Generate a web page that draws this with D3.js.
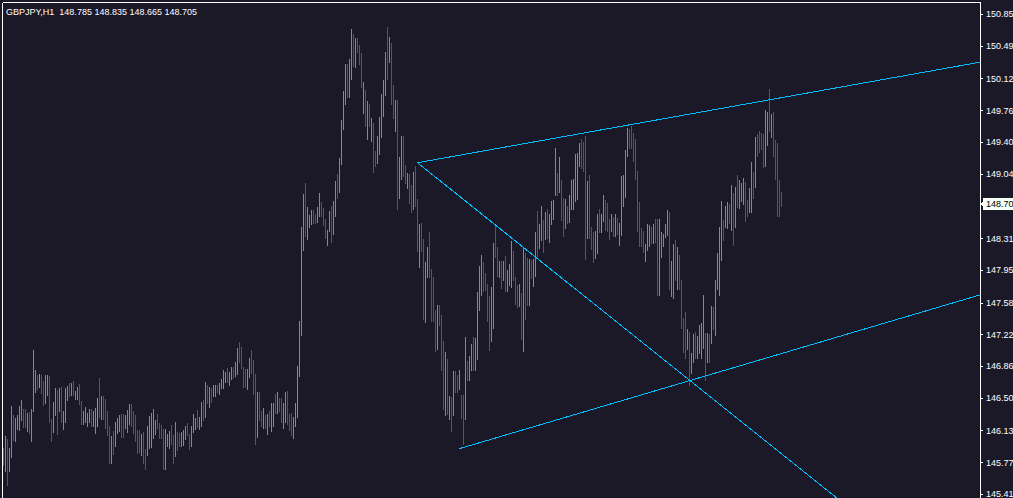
<!DOCTYPE html>
<html><head><meta charset="utf-8">
<script src="https://cdn.jsdelivr.net/npm/d3@7"></script>
<style>html,body{margin:0;padding:0;background:#1b1828;overflow:hidden}</style>
</head><body>
<svg id="c" width="1013" height="498"></svg>
<script>
// ---------------- data ----------------
const symbol = "GBPJPY";
const timeframe = "H1";
const lastOHLC = [148.785, 148.835, 148.665, 148.705];
const currentPrice = 148.705;

const barHigh = [
145.94,146.07,146.04,145.94,146.41,146.31,146.28,146.31,146.41,146.48,
146.38,146.38,146.33,146.35,146.38,147.05,146.82,146.76,146.78,146.76,
146.70,146.76,146.76,146.75,146.27,146.46,146.62,146.60,146.62,146.63,
146.36,146.62,146.64,146.67,146.67,146.70,146.58,146.63,146.66,146.47,
146.36,146.40,146.33,146.38,146.38,146.36,146.39,146.50,146.73,146.53,
146.53,146.49,146.36,146.19,146.07,146.13,146.23,146.28,146.31,146.32,
146.32,146.31,146.37,146.43,146.44,146.36,146.31,146.14,146.14,146.10,
146.12,145.93,146.19,146.30,146.33,146.38,146.25,146.32,146.22,146.20,
146.15,146.15,146.10,146.13,146.20,146.08,146.23,146.12,146.11,146.12,
146.14,146.19,146.22,146.10,146.19,146.32,146.28,146.37,146.29,
146.46,146.48,146.69,146.65,146.63,146.62,146.65,146.65,146.65,146.67,
146.72,146.82,146.80,146.84,146.80,146.85,146.85,146.91,147.07,147.14,
147.08,146.85,146.83,146.83,146.96,147.05,146.93,146.78,146.57,146.57,
146.36,146.39,146.31,146.32,146.36,146.45,146.45,146.55,146.57,146.50,
146.50,146.45,146.57,146.58,146.32,146.33,146.29,146.45,146.87,147.38,
148.44,148.82,148.94,148.67,148.58,148.63,148.63,148.59,148.67,148.83,
148.72,148.66,148.53,148.41,148.62,148.68,148.74,148.96,149.04,149.22,
149.65,149.98,150.29,150.29,150.35,150.69,150.63,150.58,150.58,150.50,
150.41,150.08,149.99,149.87,149.84,149.68,149.62,149.30,149.47,149.69,
149.95,150.11,150.42,150.71,150.59,150.53,150.05,149.88,149.88,149.23,
149.47,149.47,149.14,149.05,149.04,148.92,149.07,149.13,148.76,148.48,
148.49,148.31,148.04,148.21,148.38,
147.97,147.88,147.50,147.56,147.56,147.44,147.15,147.02,146.95,146.53,
146.51,146.81,146.81,146.76,146.82,146.54,146.54,147.20,146.92,146.98,
147.12,147.20,147.18,147.70,148.00,148.13,148.04,147.92,147.80,147.66,
147.76,148.26,148.46,148.21,148.06,148.06,148.06,148.11,147.95,148.02,
148.28,148.17,147.88,147.79,147.80,147.69,148.21,148.15,148.09,148.08,
148.07,148.08,148.38,148.62,148.48,148.68,148.52,148.61,148.65,148.59,
148.74,148.75,149.34,149.05,149.23,148.97,148.77,148.76,148.68,148.80,
148.97,148.99,149.27,149.28,149.39,149.44,149.41,149.47,148.96,149.03,
148.44,148.39,148.40,148.59,148.65,148.59,148.80,148.75,148.71,148.53,
148.59,148.56,148.59,148.54,148.49,149.02,149.03,149.31,149.56,149.55,
149.59,149.51,149.44,149.08,148.72,148.43,148.40,148.25,148.48,148.46,
148.44,148.48,148.53,148.53,148.53,148.38,148.36,148.48,148.63,148.61,
148.06,148.25,148.29,148.22,148.13,147.84,147.41,147.48,147.29,147.25,
147.01,147.23,147.25,147.21,147.33,147.35,147.67,147.24,147.24,147.23,
147.55,147.54,147.84,148.15,148.44,148.74,148.52,148.68,148.72,148.70,
148.92,148.83,148.90,149.03,148.97,148.94,149.00,148.95,148.75,148.88,
149.18,149.07,149.46,149.49,149.53,149.51,149.50,149.77,149.74,150.01,
149.72,149.75,149.43,149.39,148.97,148.835
];

const barLow = [
145.73,145.66,145.51,145.67,145.82,146.02,146.01,146.14,146.13,146.24,
146.16,146.16,146.12,146.10,146.01,146.35,146.56,146.60,146.62,146.55,
146.41,146.43,146.53,146.22,146.01,146.11,146.30,146.08,146.34,146.22,
146.14,146.22,146.47,146.51,146.53,146.53,146.48,146.48,146.42,146.20,
146.20,146.22,146.18,146.22,146.18,146.18,146.09,146.18,146.28,146.25,
146.25,146.15,146.07,145.76,145.76,145.86,145.95,146.09,146.12,146.05,
146.05,146.15,146.11,146.20,146.18,146.10,146.00,145.87,145.88,145.85,
145.75,145.69,145.85,145.93,145.94,146.04,146.08,146.15,146.04,146.04,
145.69,145.69,145.95,145.93,145.97,145.76,145.83,145.90,145.95,145.95,
145.96,146.03,146.07,145.92,145.95,146.11,146.14,146.16,146.14,
146.18,146.24,146.28,146.43,146.39,146.45,146.52,146.52,146.56,146.54,
146.61,146.61,146.67,146.67,146.64,146.71,146.72,146.74,146.76,146.90,
146.83,146.62,146.62,146.59,146.73,146.78,146.54,145.97,146.05,146.24,
146.18,146.15,146.15,146.08,146.18,146.12,146.18,146.32,146.32,146.35,
146.22,146.15,146.22,146.20,146.13,146.07,146.04,146.18,146.28,146.74,
147.21,148.17,148.33,148.29,148.43,148.46,148.47,148.47,148.49,148.56,
148.55,148.45,148.30,148.23,148.39,148.26,148.35,148.55,148.76,148.83,
149.14,149.54,149.82,149.90,149.90,150.11,150.25,150.24,150.41,150.28,
150.02,149.72,149.57,149.43,149.57,149.41,149.05,149.12,149.15,149.26,
149.45,149.69,149.93,150.11,150.30,149.82,149.66,149.52,148.63,148.76,
148.97,149.01,148.93,148.87,148.70,148.60,148.63,148.67,148.16,147.98,
148.16,147.39,147.35,147.86,147.86,
147.36,147.36,147.02,147.05,147.32,146.81,146.37,146.30,146.31,146.25,
146.12,146.30,146.56,146.56,146.60,146.27,145.97,146.26,146.70,146.70,
146.81,146.81,146.81,146.93,147.49,147.66,147.70,147.72,147.36,147.04,
147.14,147.29,148.09,147.88,147.86,147.74,147.83,147.70,147.71,147.77,
147.75,147.83,147.56,147.52,147.53,147.16,147.03,147.39,147.55,147.55,
147.85,147.76,147.88,148.10,148.19,148.28,148.15,148.29,148.30,148.26,
148.46,148.52,148.79,148.79,148.83,148.51,148.33,148.42,148.48,148.49,
148.64,148.64,148.72,148.75,149.12,149.10,149.07,148.07,148.31,148.30,
148.18,148.03,148.08,148.14,148.37,148.37,148.50,148.40,148.38,148.29,
148.38,148.33,148.33,148.35,148.23,148.34,148.67,148.77,149.23,149.33,
149.33,149.18,148.98,148.38,148.21,148.21,148.15,148.05,148.17,148.22,
148.25,148.25,148.26,147.66,147.66,148.09,148.22,148.32,148.34,147.73,
147.65,147.62,147.83,147.73,147.73,147.29,147.01,146.95,147.05,146.64,
146.78,146.90,146.95,146.94,147.00,146.95,147.06,146.70,146.90,146.90,
147.12,147.27,147.21,147.73,147.66,148.06,148.28,148.43,148.42,148.48,
148.40,148.23,148.43,148.66,148.65,148.73,148.69,148.50,148.56,148.60,
148.60,148.76,148.88,149.23,149.28,149.31,149.11,149.12,149.36,149.52,
149.45,149.23,148.98,148.55,148.55,148.665
];

// g = up bar, m = down bar, n = unchanged bar
const barDir = (
"mgmggmgggg"+"mmgmgggmnm"+"mggmmggmgm"+"gggmgmggmm"+"ggggmggnmg"+
"mmmmgmgggm"+"mgggmmmmmg"+"mmgggggmmm"+"mgggmmgmmg"+"ggmmgggmg"+
"gmgmgmggmg"+"gggmggmggm"+"mmmggmmmgm"+"mgmgmggmgm"+"mggmmmgggg"+
"ggmgggmmgg"+"mmmggmggmg"+"gggmggmgmm"+"mgmgmgmmgg"+"gggmgmmgmg"+"gmmgmmgmmg"+"mmggm"+
"mmmgmmmgmg"+"mgmmgmmgmg"+"gmggggmmmm"+"ggmmgmgmgg"+"gmmmgmgmmg"+"mggmggmgmg"+
"gggmgmmgmg"+"gggggmmmgm"+"mmggmngmmm"+"gmgmgggggm"+"mmmmmmmggg"+"mgmmgggggm"+
"ggmgmmmmgm"+"ggmggggmgm"+"gmggggmggm"+"gmgmgggmmg"+"gmgmmmmggm"+"gmmmmm"
).split("");

const axisTicks = [150.85,150.49,150.12,149.76,149.40,149.04,148.31,147.95,147.58,147.22,146.86,146.50,146.13,145.77,145.41];

// trend lines: [startBar, startPrice, throughBar, throughPrice] (rays to the right)
const trendStartBar   = [207, 207, 228];
const trendStartPrice = [149.17, 149.17, 145.93];
const trendThruBar    = [488.3, 343.3, 398.3];
const trendThruPrice  = [150.31, 146.70, 147.07];

// ---------------- drawing ----------------
const W = 1013, H = 498;
const BG = "#1b1828", FG = "#ffffff";
const colors = {g: "#3cb371", m: "#c71585", n: "#00ff00"};
const plot = {left: 2, top: 2, right: 980, bottom: 498};

const svg = d3.select("#c");
svg.append("rect").attr("width", W).attr("height", H).attr("fill", BG);

const N = Math.min(barHigh.length, barLow.length, barDir.length);
const x = d3.scaleLinear().domain([0, 389]).range([3.5, 781.5]);
const y = d3.scaleLinear().domain([145.41, 150.85]).range([494.5, 14.5]);

svg.append("defs").append("clipPath").attr("id", "clip")
  .append("rect").attr("x", plot.left + 1).attr("y", plot.top + 1)
  .attr("width", plot.right - plot.left - 1).attr("height", plot.bottom - plot.top);

const gBars = svg.append("g").attr("clip-path", "url(#clip)");
gBars.selectAll("rect").data(d3.range(N)).join("rect")
  .attr("x", i => x(i) - 0.5)
  .attr("width", 1)
  .attr("y", i => Math.round(y(barHigh[i])))
  .attr("height", i => Math.max(1, Math.round(y(barLow[i])) - Math.round(y(barHigh[i]))))
  .attr("fill", i => colors[barDir[i]] || colors.g)
  .attr("shape-rendering", "crispEdges");

// trend rays
const gLines = svg.append("g").attr("clip-path", "url(#clip)");
trendStartBar.forEach((b, k) => {
  const x1 = x(b), y1 = y(trendStartPrice[k]);
  const x2 = x(trendThruBar[k]), y2 = y(trendThruPrice[k]);
  const t = (2000 - x1) / (x2 - x1);
  gLines.append("line")
    .attr("x1", x1).attr("y1", y1)
    .attr("x2", x1 + t * (x2 - x1)).attr("y2", y1 + t * (y2 - y1))
    .attr("stroke", "#00bfff").attr("stroke-width", 1)
    .attr("shape-rendering", "crispEdges");
});

// frame
const frame = svg.append("g").attr("stroke", FG).attr("stroke-width", 1).attr("shape-rendering", "crispEdges");
frame.append("line").attr("x1", plot.left + 0.5).attr("x2", plot.left + 0.5).attr("y1", plot.top + 0.5).attr("y2", plot.bottom);
frame.append("line").attr("x1", plot.left + 0.5).attr("x2", plot.right + 0.5).attr("y1", plot.top + 0.5).attr("y2", plot.top + 0.5);
frame.append("line").attr("x1", plot.right + 0.5).attr("x2", plot.right + 0.5).attr("y1", plot.top + 0.5).attr("y2", plot.bottom);

// price axis
const axis = d3.axisRight(y).tickValues(axisTicks).tickSize(3).tickSizeOuter(0).tickPadding(3)
  .tickFormat(d => d.toFixed(2));
if (axis.offset) axis.offset(0);
const gAxis = svg.append("g").attr("transform", `translate(${plot.right},0)`).call(axis);
gAxis.select(".domain").remove();
gAxis.selectAll("line").attr("stroke", FG).attr("shape-rendering", "crispEdges");
gAxis.selectAll("text").attr("fill", FG)
  .style("font-family", "'Liberation Sans', Arial, sans-serif").style("font-size", "9px");

// current price label
const py = Math.round(y(currentPrice));
const gPrice = svg.append("g");
gPrice.append("path")
  .attr("d", `M${plot.right},${py} L${plot.right + 3},${py - 3} L${plot.right + 3},${py - 6} L${W},${py - 6} L${W},${py + 6} L${plot.right + 3},${py + 6} L${plot.right + 3},${py + 3} Z`)
  .attr("fill", "#f6fff6").attr("shape-rendering", "crispEdges");
gPrice.append("text").attr("x", plot.right + 6).attr("y", py).attr("dy", "0.35em")
  .attr("fill", "#000").style("font-family", "'Liberation Sans', Arial, sans-serif").style("font-size", "9px")
  .text((Math.floor(currentPrice * 100 + 1e-6) / 100).toFixed(2));

// title
svg.append("text").attr("x", 6).attr("y", 15)
  .attr("fill", FG).style("font-family", "'Liberation Sans', Arial, sans-serif").style("font-size", "9px")
  .style("white-space", "pre")
  .text(`${symbol},${timeframe}  ${lastOHLC.map(v => v.toFixed(3)).join(" ")}`);
</script>
</body></html>
